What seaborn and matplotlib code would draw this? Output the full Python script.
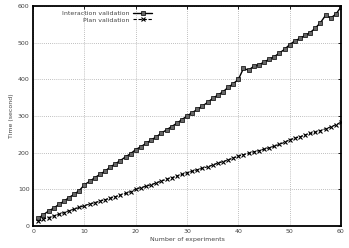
import numpy as np
import pandas as pd
import matplotlib
matplotlib.use("Agg")
import matplotlib.pyplot as plt
import seaborn as sns

# Number of experiments (1..60)
experiments = list(range(1, 61))

# Time (second) per series
interaction_time = [
    20, 30, 40, 48, 58, 67, 77, 86, 96, 112,
    121, 131, 140, 149, 160, 169, 178, 188, 197, 208,
    216, 225, 234, 243, 253, 262, 271, 280, 290, 300,
    309, 318, 327, 337, 348, 357, 366, 378, 388, 400,
    430, 425, 436, 440, 447, 455, 462, 472, 482, 495,
    505, 512, 520, 528, 540, 555, 575, 568, 578, 598,
]
plan_time = [
    12, 18, 22, 27, 31, 36, 41, 45, 50, 55,
    59, 63, 67, 71, 75, 79, 84, 88, 93, 100,
    104, 108, 112, 117, 122, 127, 131, 136, 140, 145,
    149, 153, 157, 161, 166, 171, 175, 180, 185, 190,
    194, 198, 202, 205, 209, 213, 217, 222, 228, 235,
    239, 243, 248, 252, 256, 260, 265, 270, 276, 283,
]

df = pd.DataFrame({
    "Number of experiments": experiments * 2,
    "Time (second)": interaction_time + plan_time,
    "series": ["Interaction validation"] * 60 + ["Plan validation"] * 60,
})

sns.set_style("white")
plt.rcParams["font.family"] = ["DejaVu Sans"]

fig, ax = plt.subplots(figsize=(3.49, 2.48), dpi=100)

sns.lineplot(data=df[df.series == "Interaction validation"],
             x="Number of experiments", y="Time (second)",
             color="black", lw=1.0, marker="s", markersize=2.3,
             markerfacecolor="#666666", markeredgecolor="black",
             markeredgewidth=0.5, label="Interaction validation", ax=ax)
sns.lineplot(data=df[df.series == "Plan validation"],
             x="Number of experiments", y="Time (second)",
             color="black", lw=0.8, linestyle=(0, (3, 1.5)), marker="x",
             markersize=2.2, markeredgewidth=0.8, markeredgecolor="black",
             label="Plan validation", ax=ax)

ax.set_xlim(0, 60)
ax.set_ylim(0, 600)
ax.set_xticks(range(0, 61, 10))
ax.set_yticks(range(0, 601, 100))
ax.grid(True, color="#aaaaaa", linestyle=(0, (1, 1.5)), linewidth=0.6)
ax.tick_params(axis="both", direction="in", labelsize=4.5, length=2.5,
               width=0.6, colors="black", top=True, right=True,
               labelcolor="#444444", pad=2.5)
for s in ax.spines.values():
    s.set_color("black")
    s.set_linewidth(1.3)
ax.set_xlabel("Number of experiments", fontsize=4.5, color="#444444", labelpad=2)
ax.set_ylabel("Time (second)", fontsize=4.5, color="#444444", labelpad=3)

leg = ax.legend(loc="upper left", bbox_to_anchor=(0.08, 1.0), frameon=False,
                fontsize=4.5, markerfirst=False, handlelength=3.0,
                handletextpad=0.6, labelspacing=0.2, borderaxespad=0.3)
for t in leg.get_texts():
    t.set_color("#444444")
    t.set_ha("right")

fig.subplots_adjust(left=0.095, right=0.977, top=0.975, bottom=0.09)
fig.savefig("out.png", dpi=100)
